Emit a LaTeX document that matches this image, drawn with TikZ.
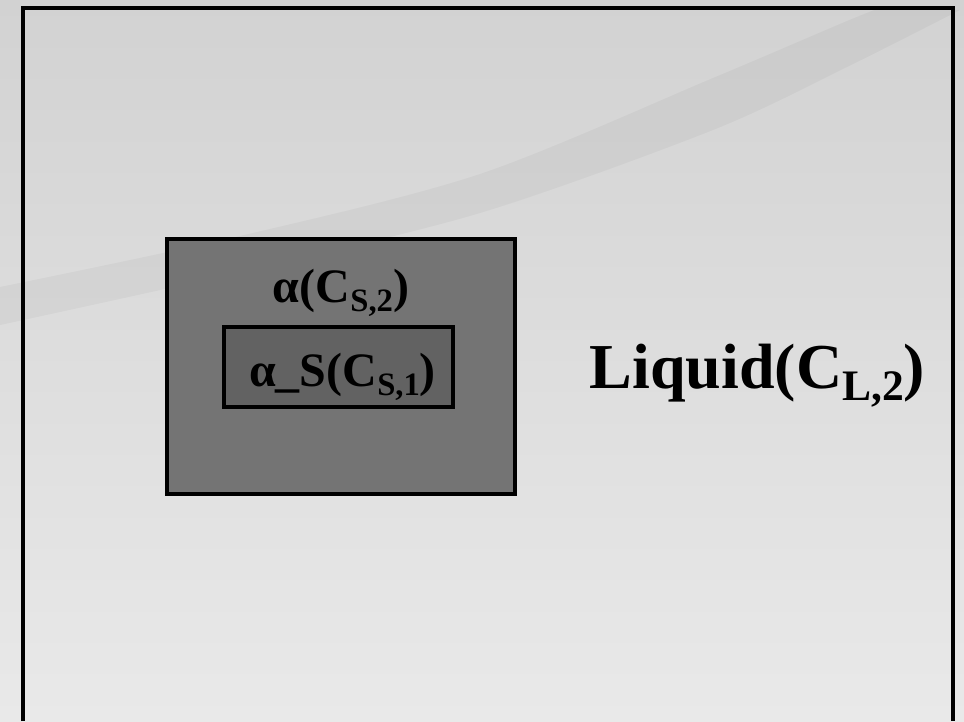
\documentclass[tikz,border=0pt]{standalone}
\usepackage{fontspec}
\setmainfont{Liberation Serif}
\usepackage{graphicx}
\newcommand{\lowsub}[1]{\raisebox{-0.2em}{\scalebox{0.68}{#1}}}
\definecolor{bgtop}{HTML}{D2D2D2}
\definecolor{bgbot}{HTML}{E9E9E9}
\definecolor{outerfill}{HTML}{747474}
\definecolor{innerfill}{HTML}{626262}
\tikzset{
  boxstyle/.style={draw=black, line width=3.5pt, rectangle, inner sep=0pt},
  labelstyle/.style={font=\bfseries\fontsize{48}{52}\selectfont, anchor=base, inner sep=0pt, text=black},
  biglabel/.style={font=\bfseries\fontsize{64}{68}\selectfont, anchor=base, inner sep=0pt, text=black},
}
\begin{document}
\begin{tikzpicture}[x=1pt,y=-1pt]
\useasboundingbox (0,0) rectangle (964,721);
% background
\shade[top color=bgtop, bottom color=bgbot] (0,0) rectangle (964,721);
% swoosh band
\fill[black, opacity=0.035]
  plot[smooth] coordinates {(0,287) (240,236) (480,174) (713,78) (847,21) (885,6)}
  -- plot[smooth] coordinates {(960,10) (847,67) (713,130) (480,213) (240,272) (0,325)} -- cycle;
% frame
\draw[line width=4pt] (23,721) -- (23,8) -- (953,8) -- (953,721);
% boxes
\node[boxstyle, fill=outerfill, minimum width=348pt, minimum height=255pt] (outer) at (341,366.5) {};
\node[boxstyle, fill=innerfill, minimum width=229pt, minimum height=80pt] (inner) at (338.5,367) {};
% labels
\node[labelstyle] (alpha) at (341,302) {α(C\lowsub{S,2})};
\node[labelstyle] (alphas) at (342.5,386) {α\_S(C\lowsub{S,1})};
\node[biglabel] (liquid) at (757.5,388) {Liquid(C\lowsub{L,2})};
\end{tikzpicture}
\end{document}
